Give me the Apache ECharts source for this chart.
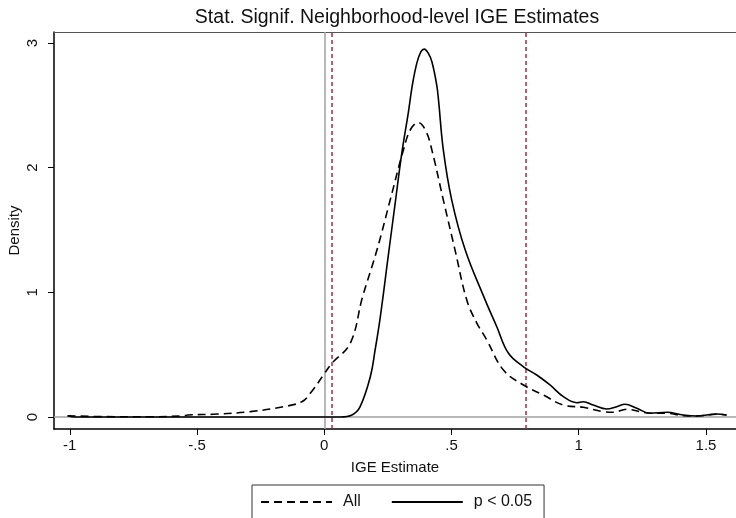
<!DOCTYPE html>
<html>
<head>
<meta charset="utf-8">
<script src="https://cdn.jsdelivr.net/npm/echarts@6/dist/echarts.min.js"></script>
<style>
  html, body { margin: 0; padding: 0; background: #fff; }
  #chart { width: 736px; height: 518px; }
</style>
</head>
<body>
<div id="chart"></div>
<script>
// Kernel density of neighborhood-level IGE estimates: all vs. significant (p < 0.05)
const allX = [-1.008, -0.798, -0.683, -0.552, -0.537, -0.421, -0.291, -0.160, -0.088, -0.055, -0.003, 0.030, 0.102, 0.150, 0.207, 0.259, 0.311, 0.340, 0.370, 0.400, 0.423, 0.468, 0.514, 0.560, 0.598, 0.639, 0.704, 0.783, 0.861, 0.940, 1.018, 1.097, 1.136, 1.188, 1.241, 1.280, 1.346, 1.411, 1.463, 1.542, 1.581];
const allY = [0.010, 0.002, 0.002, 0.010, 0.016, 0.024, 0.043, 0.083, 0.123, 0.190, 0.337, 0.431, 0.591, 0.960, 1.339, 1.740, 2.141, 2.310, 2.362, 2.290, 2.141, 1.740, 1.339, 0.938, 0.760, 0.617, 0.377, 0.257, 0.176, 0.096, 0.078, 0.043, 0.038, 0.062, 0.043, 0.030, 0.030, 0.010, 0.008, 0.022, 0.016];

const sigX = [-1.009, -0.978, -0.700, -0.300, 0.063, 0.109, 0.141, 0.181, 0.200, 0.220, 0.252, 0.279, 0.305, 0.331, 0.346, 0.364, 0.380, 0.393, 0.408, 0.423, 0.442, 0.449, 0.468, 0.501, 0.554, 0.628, 0.678, 0.724, 0.783, 0.835, 0.887, 0.940, 0.992, 1.018, 1.057, 1.110, 1.149, 1.182, 1.228, 1.280, 1.346, 1.411, 1.463, 1.542, 1.581];
const sigY = [0.010, 0.000, 0.000, 0.000, 0.000, 0.016, 0.083, 0.323, 0.540, 0.800, 1.300, 1.720, 2.120, 2.450, 2.660, 2.840, 2.930, 2.951, 2.920, 2.849, 2.662, 2.542, 2.141, 1.740, 1.339, 0.960, 0.724, 0.511, 0.403, 0.337, 0.257, 0.163, 0.115, 0.123, 0.096, 0.064, 0.083, 0.102, 0.070, 0.030, 0.038, 0.016, 0.008, 0.024, 0.016];

const xTicks = [-1, -0.5, 0, 0.5, 1, 1.5];
const xTickLabels = ['-1', '-.5', '0', '.5', '1', '1.5'];
const yTicks = [0, 1, 2, 3];
const refLines = [0.028, 0.785];

const FONT = 'Liberation Sans, Arial, sans-serif';
const zip = (xs, ys) => xs.map((x, i) => [x, ys[i]]);

const chart = echarts.init(document.getElementById('chart'), null, { renderer: 'canvas' });

chart.setOption({
  backgroundColor: '#ffffff',
  animation: false,
  title: {
    text: 'Stat. Signif. Neighborhood-level IGE Estimates',
    left: 392, top: 3, textAlign: 'center',
    textStyle: { fontFamily: FONT, fontSize: 19.5, fontWeight: 'normal', color: '#111' }
  },
  grid: { left: 54, right: 0, top: 32, bottom: 89, containLabel: false, outerBoundsMode: 'none' },
  legend: {
    left: 252, top: 485,
    padding: [9, 12, 22, 8],
    borderColor: '#333', borderWidth: 1,
    itemWidth: 71, itemHeight: 14, itemGap: 30,
    itemStyle: { opacity: 0 },
    textStyle: { fontFamily: FONT, fontSize: 16, color: '#111', padding: [0, 0, 0, 6] },
    data: ['All', 'p < 0.05']
  },
  xAxis: [{
    type: 'value', min: -1.062, max: 1.618,
    name: 'IGE Estimate', nameLocation: 'middle', nameGap: 31,
    nameTextStyle: { fontFamily: FONT, fontSize: 15, color: '#111' },
    axisLine: { show: true, onZero: false, lineStyle: { color: '#000', width: 1.5 } },
    axisTick: { show: true, length: 6, customValues: xTicks, lineStyle: { color: '#000', width: 1 } },
    axisLabel: {
      customValues: xTicks, margin: 9,
      fontFamily: FONT, fontSize: 15, color: '#111',
      formatter: v => xTickLabels[xTicks.findIndex(t => Math.abs(t - v) < 1e-9)] ?? ''
    },
    splitLine: { show: false }
  }, {
    type: 'value', position: 'top', min: -1.062, max: 1.618,
    axisLine: { show: true, onZero: false, lineStyle: { color: '#555', width: 1 } },
    axisTick: { show: false }, axisLabel: { show: false }, splitLine: { show: false }
  }],
  yAxis: {
    type: 'value', min: -0.096, max: 3.088,
    name: 'Density', nameLocation: 'middle', nameGap: 32, nameMoveOverlap: false,
    nameTextStyle: { fontFamily: FONT, fontSize: 15, color: '#111' },
    axisLine: { show: true, onZero: false, lineStyle: { color: '#000', width: 1.5 } },
    axisTick: { show: true, length: 6, customValues: yTicks, lineStyle: { color: '#000', width: 1 } },
    axisLabel: {
      customValues: yTicks, margin: 14, rotate: 90,
      fontFamily: FONT, fontSize: 15, color: '#111'
    },
    splitLine: { show: false }
  },
  series: [{
    name: 'All', type: 'line', xAxisIndex: 0,
    data: zip(allX, allY),
    showSymbol: false, symbol: 'none',
    smooth: 0.4,
    lineStyle: { color: '#000', width: 1.6, type: [8, 5] },
    itemStyle: { color: '#000' },
    z: 5,
    markLine: {
      silent: true, symbol: 'none', label: { show: false },
      data: [
        { xAxis: 0, lineStyle: { color: '#a0a0a0', width: 1.5, type: 'solid' } },
        { yAxis: 0, lineStyle: { color: '#a0a0a0', width: 1.5, type: 'solid' } }
      ],
      z: 2
    }
  }, {
    name: 'p < 0.05', type: 'line', xAxisIndex: 0,
    data: zip(sigX, sigY),
    showSymbol: false, symbol: 'none',
    smooth: 0.4,
    lineStyle: { color: '#000', width: 1.6, type: 'solid' },
    itemStyle: { color: '#000' },
    z: 6,
    markLine: {
      silent: true, symbol: 'none', label: { show: false },
      lineStyle: { color: '#a03040', width: 1.5, type: [4, 3] },
      data: refLines.map(v => ({ xAxis: v })),
      z: 3
    }
  }]
});
</script>
</body>
</html>
